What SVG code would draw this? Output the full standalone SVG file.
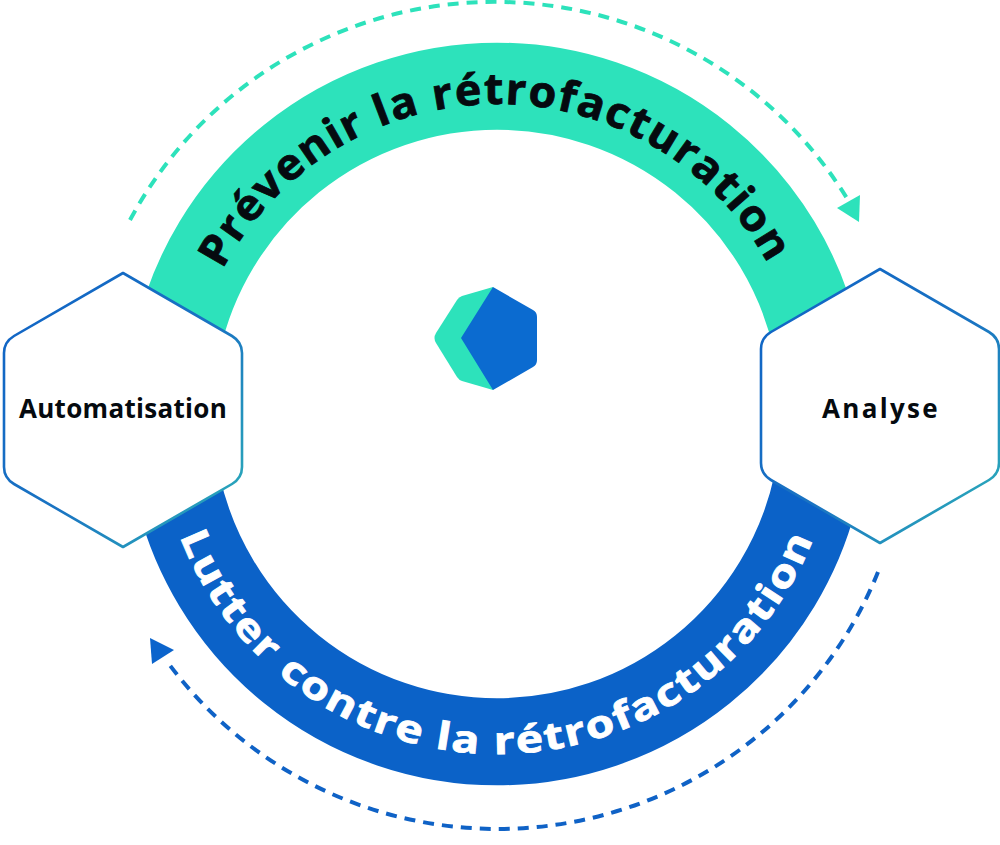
<svg xmlns="http://www.w3.org/2000/svg" width="1000" height="845" viewBox="0 0 1000 845">
<style>
.hex{fill:#fff;stroke:url(#hexStroke);stroke-width:2.6;stroke-linejoin:round}
.lbl{font-family:"Open Sans","Noto Sans",sans-serif;font-weight:700;font-size:26px;fill:#050a0f;text-anchor:middle}
.arc{font-family:"Open Sans","Noto Sans",sans-serif;font-weight:700;letter-spacing:1.5px;stroke-width:0.8}
.dash{fill:none;stroke-width:4;stroke-dasharray:11 8}
.band{fill:none;stroke-width:87}
</style>
<defs>
<linearGradient id="hexStroke" x1="0" y1="0" x2="1" y2="1"><stop offset="0" stop-color="#0f62c6"/><stop offset="0.55" stop-color="#1a74c2"/><stop offset="1" stop-color="#2eb5b8"/></linearGradient>
<path id="topPath" d="M 187 414 A 310 310 0 0 1 807 414"/>
<path id="botPath" d="M 157 414 A 340 340 0 0 0 837 414"/>
</defs>
<rect width="1000" height="845" fill="#fff"/>
<g id="connectors">
<path class="band" stroke="#2de2bb" d="M 177 344 A 327.5 327.5 0 0 1 817 344"/>
<path class="band" stroke="#0b62c8" d="M 177 484 A 327.5 327.5 0 0 0 817 484"/>
<path class="dash" stroke="#2de2bb" d="M 130 220 A 414 414 0 0 1 848 200"/>
<polygon points="860,195 837,208 859,222" fill="#2de2bb"/>
<path class="dash" stroke="#0f62c6" d="M 878 572 A 410 410 0 0 1 166 660"/>
<polygon points="150,638 174,650 152,664" fill="#0b64cc"/>
</g>
<text class="arc" fill="#050a0f" stroke="#050a0f" font-size="43"><textPath href="#topPath" startOffset="150" textLength="668" lengthAdjust="spacingAndGlyphs">Prévenir la rétrofacturation</textPath></text>
<text class="arc" fill="#fff" stroke="#fff" font-size="38"><textPath href="#botPath" startOffset="125" textLength="816" lengthAdjust="spacingAndGlyphs">Lutter contre la rétrofacturation</textPath></text>
<g id="automatisation">
<path class="hex" d="M 123 273 L 232 336 Q 242 342 242 353 L 242 467 Q 242 478 232 484 L 123 547 L 14 484 Q 4 478 4 467 L 4 353 Q 4 342 14 336 Z"/>
<text class="lbl" x="123" y="418" letter-spacing="0.3">Automatisation</text>
</g>
<g id="analyse">
<path class="hex" d="M 880 269 L 989 332 Q 999 338 999 349 L 999 463 Q 999 474 989 480 L 880 543 L 771 480 Q 761 474 761 463 L 761 349 Q 761 338 771 332 Z"/>
<text class="lbl" x="881" y="418" letter-spacing="2.3">Analyse</text>
</g>
<g id="logo">
<path d="M 493 287 L 462 296 Q 459 297 457 300 L 436 333 Q 433 338 436 343 L 457 377 Q 459 380 462 381 L 493 390 Z" fill="#2de2bb"/>
<path d="M 493 287 L 533 310 Q 537 312 537 317 L 537 360 Q 537 365 533 367 L 493 390 L 461 338 Z" fill="#0b6bd0"/>
</g>
</svg>
